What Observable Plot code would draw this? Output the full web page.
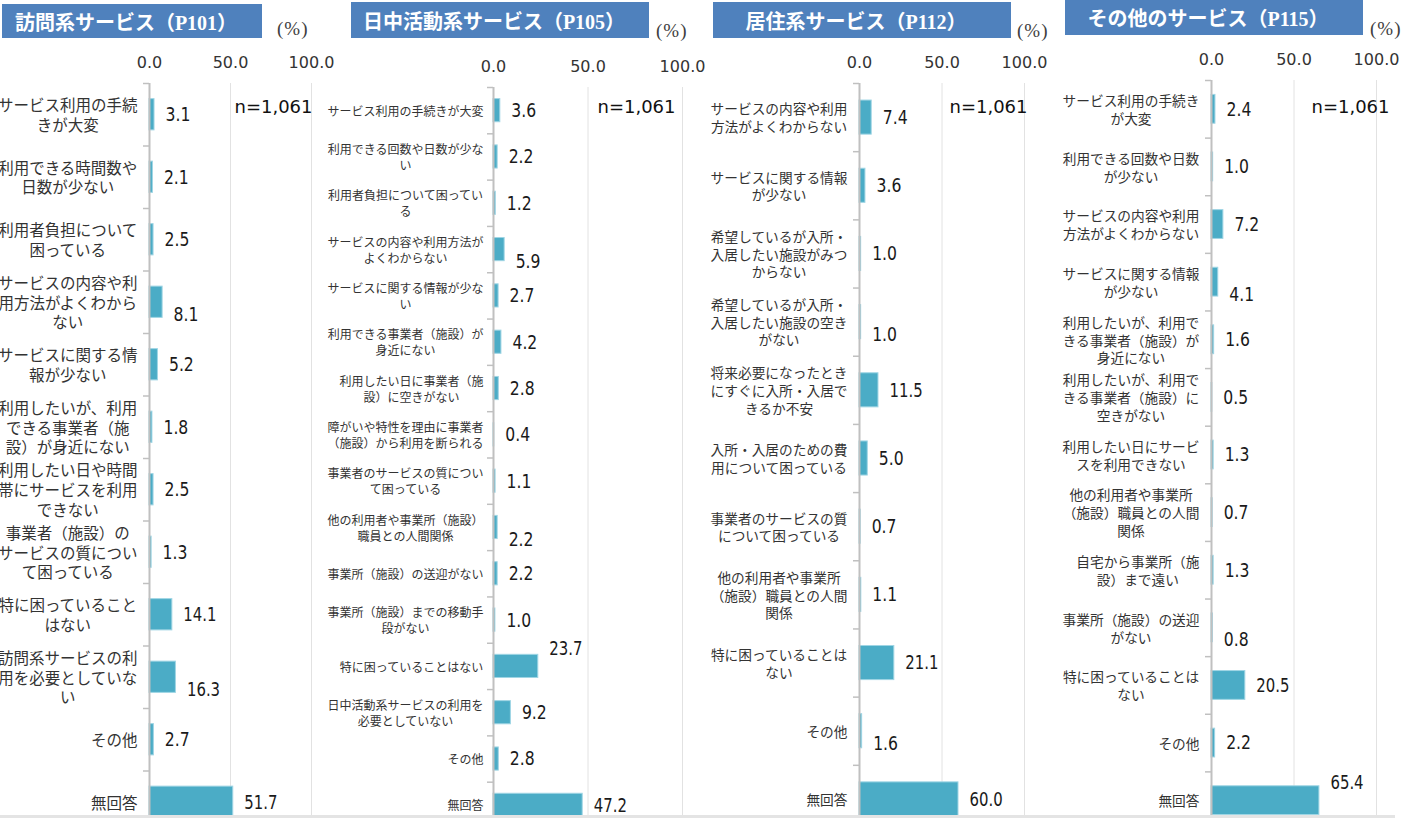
<!DOCTYPE html>
<html><head><meta charset="utf-8">
<script src="https://cdn.jsdelivr.net/npm/d3@7"></script>
<script src="https://cdn.jsdelivr.net/npm/@observablehq/plot@0.6"></script>
<style>
html,body{margin:0;padding:0;background:#fff;overflow:hidden;}
#root{position:relative;width:1418px;height:818px;overflow:hidden;background:#fff;}
.title{position:absolute;background:#4F81BD;color:#fff;font-family:"Liberation Serif","Noto Sans CJK JP",serif;font-size:20px;font-weight:bold;display:flex;align-items:center;justify-content:center;white-space:nowrap;box-sizing:border-box;padding-right:12px;}
.pct{position:absolute;font-family:"Liberation Serif",serif;font-size:19px;letter-spacing:1px;color:#404040;}
.panel{position:absolute;top:0;}
.bottomline{position:absolute;left:0;top:815px;width:1395px;height:3px;background:#e4e4e4;z-index:5;}
</style></head><body><div id="root"></div>
<script>
// ---- data ----
const homeTitle = "訪問系サービス（P101）";
const homeCategories = [
  "サービス利用の手続\nきが大変",
  "利用できる時間数や\n日数が少ない",
  "利用者負担について\n困っている",
  "サービスの内容や利\n用方法がよくわから\nない",
  "サービスに関する情\n報が少ない",
  "利用したいが、利用\nできる事業者（施\n設）が身近にない",
  "利用したい日や時間\n帯にサービスを利用\nできない",
  "事業者（施設）の\nサービスの質につい\nて困っている",
  "特に困っていること\nはない",
  "訪問系サービスの利\n用を必要としていな\nい",
  "その他",
  "無回答"
];
const homeValues = [3.1, 2.1, 2.5, 8.1, 5.2, 1.8, 2.5, 1.3, 14.1, 16.3, 2.7, 51.7];

const dayTitle = "日中活動系サービス（P105）";
const dayCategories = [
  "サービス利用の手続きが大変",
  "利用できる回数や日数が少な\nい",
  "利用者負担について困ってい\nる",
  "サービスの内容や利用方法が\nよくわからない",
  "サービスに関する情報が少な\nい",
  "利用できる事業者（施設）が\n身近にない",
  "利用したい日に事業者（施\n設）に空きがない",
  "障がいや特性を理由に事業者\n（施設）から利用を断られる",
  "事業者のサービスの質につい\nて困っている",
  "他の利用者や事業所（施設）\n職員との人間関係",
  "事業所（施設）の送迎がない",
  "事業所（施設）までの移動手\n段がない",
  "特に困っていることはない",
  "日中活動系サービスの利用を\n必要としていない",
  "その他",
  "無回答"
];
const dayValues = [3.6, 2.2, 1.2, 5.9, 2.7, 4.2, 2.8, 0.4, 1.1, 2.2, 2.2, 1.0, 23.7, 9.2, 2.8, 47.2];

const resTitle = "居住系サービス（P112）";
const resCategories = [
  "サービスの内容や利用\n方法がよくわからない",
  "サービスに関する情報\nが少ない",
  "希望しているが入所・\n入居したい施設がみつ\nからない",
  "希望しているが入所・\n入居したい施設の空き\nがない",
  "将来必要になったとき\nにすぐに入所・入居で\nきるか不安",
  "入所・入居のための費\n用について困っている",
  "事業者のサービスの質\nについて困っている",
  "他の利用者や事業所\n（施設）職員との人間\n関係",
  "特に困っていることは\nない",
  "その他",
  "無回答"
];
const resValues = [7.4, 3.6, 1.0, 1.0, 11.5, 5.0, 0.7, 1.1, 21.1, 1.6, 60.0];

const otherTitle = "その他のサービス（P115）";
const otherCategories = [
  "サービス利用の手続き\nが大変",
  "利用できる回数や日数\nが少ない",
  "サービスの内容や利用\n方法がよくわからない",
  "サービスに関する情報\nが少ない",
  "利用したいが、利用で\nきる事業者（施設）が\n身近にない",
  "利用したいが、利用で\nきる事業者（施設）に\n空きがない",
  "利用したい日にサービ\nスを利用できない",
  "他の利用者や事業所\n（施設）職員との人間\n関係",
  "自宅から事業所（施\n設）まで遠い",
  "事業所（施設）の送迎\nがない",
  "特に困っていることは\nない",
  "その他",
  "無回答"
];
const otherValues = [2.4, 1.0, 7.2, 4.1, 1.6, 0.5, 1.3, 0.7, 1.3, 0.8, 20.5, 2.2, 65.4];

const sampleNote = "n=1,061";
const xTicks = [0, 50, 100];

// ---- layout ----
const panels = [
  {title: homeTitle, cats: homeCategories, vals: homeValues,
   left: 0, width: 340, axisX: 149, x100: 311, top: 83, bottom: 833, fontSize: 15.5, lh: 1.26, gap: 12,
   below: [3, 9], above: [], nDx: 1, nDy: 17,
   box: [2, 4, 260, 34], pct: [277, 18]},
  {title: dayTitle, cats: dayCategories, vals: dayValues,
   left: 320, width: 380, axisX: 493, x100: 682, top: 87, bottom: 828, fontSize: 12, lh: 1.33, gap: 10,
   below: [3, 9], above: [12], nDx: -7, nDy: 13,
   box: [351, 2, 298, 36], pct: [656, 20]},
  {title: resTitle, cats: resCategories, vals: resValues,
   left: 690, width: 370, axisX: 859, x100: 1024, top: 83, bottom: 833, fontSize: 13.7, lh: 1.29, gap: 12,
   below: [3, 9], above: [], nDx: 3, nDy: 17,
   box: [713, 2, 298, 36], pct: [1017, 20]},
  {title: otherTitle, cats: otherCategories, vals: otherValues,
   left: 1050, width: 368, axisX: 1211, x100: 1376, top: 80, bottom: 829, fontSize: 13.7, lh: 1.31, gap: 12,
   below: [3, 9], above: [12], nDx: 13, nDy: 20,
   box: [1065, 0, 298, 35], pct: [1370, 18]}
];

const root = document.getElementById("root");
const SVG_H = 840;
const valueFontFamily = "'DejaVu Sans',sans-serif";
const valueFill = "#1a1a1a";
const valueCharWidth = 8.3;

for (const p of panels) {
  const n = p.cats.length;
  const ppu = (p.x100 - p.axisX) / 100;
  const rows = p.cats.map((c, i) => {
    const lines = c.split("\n");
    const w = d3.max(lines, l => [...l].length) * p.fontSize;
    return {i, label: c, value: p.vals[i], cx: -(p.gap + w / 2) / ppu,
      place: p.below.includes(i) ? "below" : p.above.includes(i) ? "above" : "mid"};
  });
  const valText = (place, dy) => Plot.text(rows.filter(r => r.place === place), {
    x: "value", y: d => d.i + 0.5, text: d => d.value.toFixed(1),
    textAnchor: "start", lineAnchor: "middle", dx: 11, dy,
    fontSize: 20, fontFamily: valueFontFamily, fill: valueFill
  });
  const svg = Plot.plot({
    width: p.width, height: SVG_H,
    marginLeft: p.axisX - p.left, marginRight: p.left + p.width - p.x100,
    marginTop: p.top, marginBottom: SVG_H - p.bottom,
    style: {background: "transparent", overflow: "visible", fontFamily: "'DejaVu Sans',sans-serif", fontSize: "16px", color: "#333"},
    x: {domain: [0, 100], axis: "top", ticks: xTicks, tickFormat: d => d.toFixed(1), tickSize: 0, tickPadding: 16, label: null},
    y: {domain: [0, n], reverse: true, axis: null},
    marks: [
      Plot.ruleX([50, 100], {stroke: "#e2e2e2", strokeWidth: 1}),
      Plot.rect(rows, {x1: 0, x2: "value", y1: d => d.i + 0.25, y2: d => d.i + 0.75, fill: "#4BACC6", stroke: "#9fd5e4", strokeWidth: 1}),
      Plot.ruleX([0], {stroke: "#c0c0c0", strokeWidth: 2}),
      Plot.ruleY(d3.range(n + 1), {x1: -6 / ppu, x2: 0, stroke: "#c0c0c0", strokeWidth: 1.5}),
      Plot.text(rows, {x: "cx", y: d => d.i + 0.5, text: "label", textAnchor: "middle", lineAnchor: "middle",
        lineHeight: p.lh, fontSize: p.fontSize, fontFamily: "'Noto Sans CJK JP',sans-serif", fill: "#333"}),
      valText("mid", 0),
      valText("below", 12),
      valText("above", -18),
      Plot.text([sampleNote], {frameAnchor: "top-right", textAnchor: "end", lineAnchor: "top", dx: p.nDx, dy: p.nDy,
        fontSize: 18, fontFamily: "'DejaVu Sans',sans-serif", fill: "#111"})
    ]
  });
  svg.classList.add("panel");
  svg.style.left = p.left + "px";
  root.appendChild(svg);
  // narrow (condensed) number labels like the original
  d3.select(svg).selectAll("g")
    .filter(function () { return this.getAttribute("fill") === valueFill; })
    .selectAll("text")
    .each(function () {
      const s = this.textContent;
      this.setAttribute("textLength", s.length * valueCharWidth);
      this.setAttribute("lengthAdjust", "spacingAndGlyphs");
    });

  const t = document.createElement("div");
  t.className = "title";
  t.textContent = p.title;
  t.style.left = p.box[0] + "px"; t.style.top = p.box[1] + "px";
  t.style.width = p.box[2] + "px"; t.style.height = p.box[3] + "px";
  root.appendChild(t);

  const pc = document.createElement("div");
  pc.className = "pct";
  pc.textContent = "(%)";
  pc.style.left = p.pct[0] + "px"; pc.style.top = p.pct[1] + "px";
  root.appendChild(pc);
}
const bl = document.createElement("div");
bl.className = "bottomline";
root.appendChild(bl);
</script>
</body></html>
